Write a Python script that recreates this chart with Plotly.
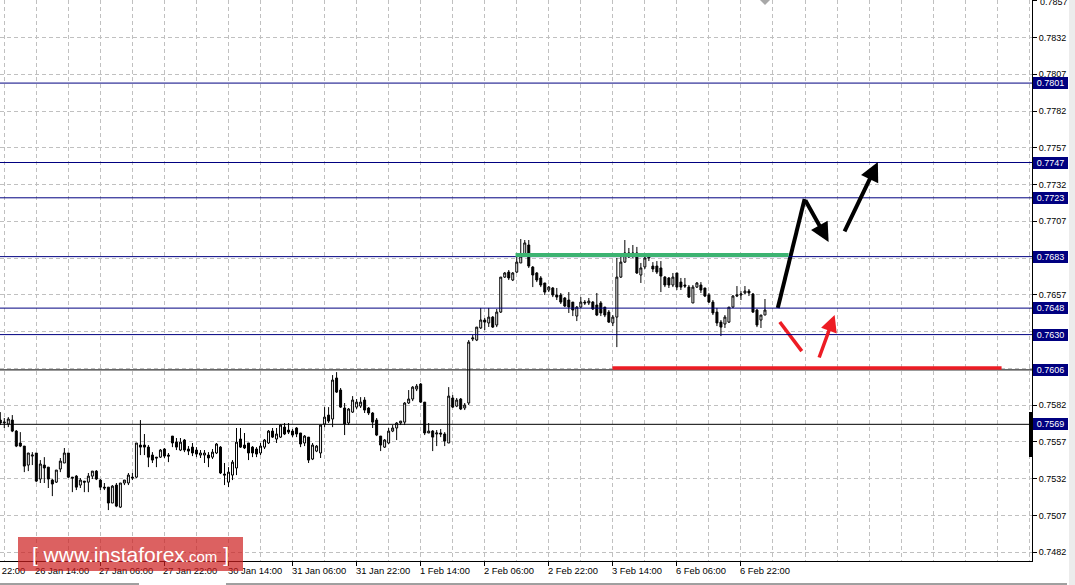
import plotly.graph_objects as go

# ---------------- data (H1 candles) ----------------
bars = list(range(192))
opens = [0.75719,0.75699,0.75692,0.75719,0.75644,0.75563,0.75542,0.75413,0.75474,0.75495,
0.75318,0.75413,0.75399,0.75311,0.75297,0.75386,0.75427,0.75495,0.75331,0.75338,
0.75277,0.75304,0.75297,0.75338,0.75372,0.75311,0.75263,0.75263,0.75155,0.75277,
0.75127,0.75291,0.75291,0.75331,0.75331,0.75549,0.75549,0.75535,0.75481,0.75467,
0.75467,0.75522,0.75481,0.75610,0.75569,0.75515,0.75583,0.75522,0.75535,0.75515,
0.75481,0.75481,0.75481,0.75467,0.75495,0.75535,0.75352,0.75297,0.75345,0.75393,
0.75590,0.75549,0.75563,0.75535,0.75522,0.75495,0.75535,0.75563,0.75644,0.75590,
0.75603,0.75671,0.75651,0.75644,0.75665,0.75631,0.75563,0.75603,0.75454,0.75508,
0.75495,0.75692,0.75753,0.75726,0.76005,0.75923,0.75801,0.75699,0.75773,0.75807,
0.75814,0.75855,0.75801,0.75767,0.75719,0.75610,0.75535,0.75563,0.75644,0.75665,
0.75699,0.75705,0.75835,0.75862,0.75930,0.75964,0.75841,0.75631,0.75644,0.75624,
0.75631,0.75624,0.75563,0.75869,0.75814,0.75862,0.75801,0.75835,0.76270,0.76263,
0.76345,0.76399,0.76379,0.76419,0.76365,0.76453,0.76691,0.76725,0.76671,0.76725,
0.76787,0.76841,0.76909,0.76759,0.76719,0.76685,0.76651,0.76603,0.76617,0.76569,
0.76569,0.76549,0.76535,0.76521,0.76426,0.76487,0.76521,0.76515,0.76521,0.76501,
0.76515,0.76487,0.76453,0.76379,0.76419,0.76691,0.76793,0.76855,0.76855,0.76855,
0.76705,0.76760,0.76821,0.76766,0.76766,0.76753,0.76691,0.76685,0.76637,0.76719,
0.76657,0.76637,0.76623,0.76515,0.76623,0.76637,0.76617,0.76569,0.76521,0.76453,
0.76385,0.76372,0.76385,0.76487,0.76562,0.76569,0.76583,0.76596,0.76576,0.76467,
0.76399,0.76433]
highs = [0.75773,0.75733,0.75739,0.75753,0.75651,0.75637,0.75542,0.75495,0.75501,0.75495,
0.75447,0.75467,0.75399,0.75318,0.75379,0.75461,0.75529,0.75495,0.75331,0.75345,
0.75325,0.75304,0.75359,0.75372,0.75379,0.75318,0.75291,0.75263,0.75277,0.75291,
0.75291,0.75311,0.75359,0.75359,0.75563,0.75719,0.75624,0.75549,0.75501,0.75467,
0.75522,0.75529,0.75495,0.75610,0.75597,0.75597,0.75590,0.75542,0.75563,0.75535,
0.75515,0.75515,0.75501,0.75522,0.75563,0.75542,0.75427,0.75399,0.75447,0.75665,
0.75665,0.75631,0.75563,0.75542,0.75535,0.75563,0.75590,0.75651,0.75665,0.75665,
0.75692,0.75699,0.75699,0.75658,0.75671,0.75631,0.75617,0.75603,0.75563,0.75549,
0.75685,0.75807,0.75807,0.76025,0.76045,0.75937,0.75835,0.75801,0.75882,0.75862,
0.75875,0.75875,0.75807,0.75773,0.75733,0.75610,0.75590,0.75665,0.75685,0.75705,
0.75712,0.75841,0.75923,0.75950,0.75964,0.75971,0.75841,0.75699,0.75651,0.75651,
0.75658,0.75637,0.75943,0.75889,0.75869,0.75869,0.75835,0.76263,0.76297,0.76351,
0.76481,0.76413,0.76481,0.76426,0.76474,0.76691,0.76725,0.76739,0.76725,0.76855,
0.76950,0.76943,0.76943,0.76766,0.76725,0.76698,0.76651,0.76630,0.76623,0.76617,
0.76583,0.76555,0.76589,0.76521,0.76494,0.76555,0.76535,0.76549,0.76528,0.76583,
0.76528,0.76487,0.76467,0.76433,0.76821,0.76841,0.76943,0.76889,0.76909,0.76896,
0.76787,0.76834,0.76855,0.76793,0.76800,0.76800,0.76698,0.76691,0.76719,0.76719,
0.76685,0.76685,0.76637,0.76637,0.76657,0.76657,0.76617,0.76583,0.76535,0.76481,
0.76399,0.76433,0.76487,0.76569,0.76630,0.76596,0.76630,0.76610,0.76583,0.76474,
0.76433,0.76542]
lows = [0.75685,0.75665,0.75671,0.75637,0.75535,0.75535,0.75365,0.75372,0.75413,0.75297,
0.75291,0.75291,0.75257,0.75202,0.75291,0.75365,0.75427,0.75325,0.75229,0.75243,
0.75257,0.75229,0.75229,0.75318,0.75311,0.75243,0.75243,0.75107,0.75155,0.75127,
0.75121,0.75277,0.75277,0.75311,0.75325,0.75481,0.75481,0.75399,0.75427,0.75399,
0.75461,0.75461,0.75433,0.75535,0.75515,0.75508,0.75501,0.75481,0.75474,0.75467,
0.75461,0.75427,0.75399,0.75454,0.75488,0.75352,0.75277,0.75263,0.75311,0.75345,
0.75529,0.75522,0.75447,0.75467,0.75467,0.75481,0.75522,0.75556,0.75597,0.75563,
0.75597,0.75617,0.75624,0.75603,0.75603,0.75535,0.75542,0.75427,0.75447,0.75501,
0.75461,0.75671,0.75699,0.75671,0.75903,0.75801,0.75617,0.75685,0.75767,0.75794,
0.75801,0.75767,0.75753,0.75665,0.75610,0.75508,0.75529,0.75556,0.75637,0.75583,
0.75685,0.75685,0.75828,0.75848,0.75916,0.75835,0.75617,0.75631,0.75508,0.75542,
0.75603,0.75542,0.75563,0.75801,0.75807,0.75787,0.75787,0.75821,0.76256,0.76256,
0.76338,0.76331,0.76352,0.76345,0.76351,0.76447,0.76685,0.76671,0.76664,0.76719,
0.76787,0.76828,0.76753,0.76623,0.76657,0.76623,0.76569,0.76589,0.76555,0.76535,
0.76508,0.76487,0.76447,0.76426,0.76392,0.76481,0.76501,0.76501,0.76467,0.76426,
0.76426,0.76419,0.76379,0.76358,0.76215,0.76685,0.76787,0.76821,0.76821,0.76712,
0.76651,0.76746,0.76800,0.76725,0.76712,0.76589,0.76623,0.76617,0.76623,0.76603,
0.76603,0.76617,0.76549,0.76515,0.76617,0.76583,0.76555,0.76515,0.76433,0.76358,
0.76290,0.76345,0.76379,0.76481,0.76555,0.76535,0.76576,0.76562,0.76447,0.76351,
0.76345,0.76433]
closes = [0.75699,0.75705,0.75726,0.75644,0.75542,0.75542,0.75406,0.75495,0.75481,0.75304,
0.75420,0.75393,0.75318,0.75284,0.75379,0.75440,0.75495,0.75331,0.75325,0.75263,
0.75311,0.75297,0.75338,0.75372,0.75318,0.75263,0.75257,0.75155,0.75270,0.75134,
0.75291,0.75311,0.75345,0.75325,0.75563,0.75535,0.75535,0.75467,0.75447,0.75461,
0.75515,0.75474,0.75474,0.75563,0.75535,0.75569,0.75515,0.75508,0.75495,0.75488,
0.75495,0.75495,0.75461,0.75501,0.75556,0.75359,0.75345,0.75365,0.75433,0.75569,
0.75535,0.75529,0.75495,0.75495,0.75488,0.75542,0.75583,0.75644,0.75603,0.75624,
0.75685,0.75624,0.75637,0.75617,0.75624,0.75556,0.75610,0.75447,0.75549,0.75542,
0.75685,0.75739,0.75712,0.75991,0.75909,0.75807,0.75692,0.75794,0.75855,0.75841,
0.75841,0.75787,0.75767,0.75705,0.75617,0.75549,0.75583,0.75644,0.75665,0.75699,
0.75712,0.75835,0.75862,0.75943,0.75950,0.75841,0.75631,0.75644,0.75603,0.75631,
0.75624,0.75576,0.75882,0.75807,0.75855,0.75794,0.75821,0.76249,0.76277,0.76351,
0.76399,0.76385,0.76419,0.76351,0.76453,0.76691,0.76719,0.76685,0.76719,0.76793,
0.76834,0.76923,0.76766,0.76705,0.76671,0.76637,0.76589,0.76623,0.76569,0.76555,
0.76521,0.76494,0.76487,0.76467,0.76487,0.76521,0.76515,0.76528,0.76474,0.76433,
0.76447,0.76433,0.76385,0.76419,0.76691,0.76793,0.76855,0.76828,0.76841,0.76719,
0.76753,0.76821,0.76828,0.76746,0.76725,0.76698,0.76637,0.76637,0.76691,0.76623,
0.76623,0.76630,0.76555,0.76623,0.76651,0.76603,0.76562,0.76521,0.76447,0.76379,
0.76351,0.76419,0.76487,0.76562,0.76569,0.76576,0.76596,0.76583,0.76453,0.76365,
0.76433,0.76467]

# horizontal levels drawn on chart with their price boxes
blue_levels = [0.7801, 0.7747, 0.7723, 0.7683, 0.7648, 0.7630]
dark_levels = [0.7606, 0.7569]
level_labels = ["0.7801", "0.7747", "0.7723", "0.7683", "0.7648", "0.7630", "0.7606", "0.7569"]

# resistance (green) and support (red) zones: [start bar, end bar, price]
green_zone = [128.7, 196.9, 0.76841]
red_zone = [152.9, 250.1, 0.76073]

# forecast arrows (bar index, price)
bull_leg_x = [194.2, 200.9]
bull_leg_y = [0.76481, 0.77222]
bull_pull_x = [200.9, 206.9]
bull_pull_y = [0.77222, 0.76930]
bull_cont_x = [210.7, 219.2]
bull_cont_y = [0.76991, 0.77473]
bear_leg_x = [194.7, 200.2]
bear_leg_y = [0.76386, 0.76188]
bear_rebound_x = [204.4, 208.4]
bear_rebound_y = [0.76134, 0.76433]

# axes (labels hidden behind price boxes are left blank)
y_tick_vals = [0.7857, 0.7832, 0.7807, 0.7782, 0.7757, 0.7732, 0.7707, 0.7682,
               0.7657, 0.7632, 0.7607, 0.7582, 0.7557, 0.7532, 0.7507, 0.7482]
y_tick_text = ["", "0.7832", "0.7807", "0.7782", "0.7757", "0.7732", "0.7707", "",
               "0.7657", "", "", "0.7582", "0.7557", "0.7532", "0.7507", "0.7482"]
top_tick_val = 0.7857
top_tick_text = "0.7857"
x_tick_bars = [-7, 9, 25, 41, 57, 73, 89, 105, 121, 137, 153, 169, 185]
x_tick_text = ["25 Jan 22:00", "26 Jan 14:00", "27 Jan 06:00", "27 Jan 22:00", "30 Jan 14:00",
               "31 Jan 06:00", "31 Jan 22:00", "1 Feb 14:00", "2 Feb 06:00", "2 Feb 22:00",
               "3 Feb 14:00", "6 Feb 06:00", "6 Feb 22:00"]

X_RANGE = [-0.075, 257.7]
Y_RANGE = [0.747608, 0.785748]
W, H = 1075, 585
ML, MR, MT, MB = 0, 43, 0, 24
PW = W - ML - MR
PH = H - MT - MB
PX_PER_BAR = PW / (X_RANGE[1] - X_RANGE[0])

FONT = "Liberation Sans, Arial, sans-serif"
NAVY = "#000080"
GRID = "#c0c0c0"

fig = go.Figure()

fig.add_trace(go.Candlestick(
    x=bars, open=opens, high=highs, low=lows, close=closes,
    increasing=dict(line=dict(color="#000000", width=1), fillcolor="#ffffff"),
    decreasing=dict(line=dict(color="#000000", width=1), fillcolor="#000000"),
    whiskerwidth=0, hoverinfo="skip", showlegend=False))

shapes = []
for lv in blue_levels:
    shapes.append(dict(type="line", xref="paper", yref="y", x0=0, x1=1, y0=lv, y1=lv,
                       line=dict(color=NAVY, width=1), layer="above"))
for lv in dark_levels:
    shapes.append(dict(type="line", xref="paper", yref="y", x0=0, x1=1, y0=lv, y1=lv,
                       line=dict(color="#000000", width=1), layer="above"))

shapes.append(dict(type="line", xref="x", yref="y", x0=green_zone[0], x1=green_zone[1],
                   y0=green_zone[2], y1=green_zone[2],
                   line=dict(color="#3cb371", width=4), layer="above"))
shapes.append(dict(type="line", xref="x", yref="y", x0=red_zone[0], x1=red_zone[1],
                   y0=red_zone[2], y1=red_zone[2],
                   line=dict(color="#ed1c24", width=3.5), layer="above"))

fig.add_trace(go.Scatter(x=bull_leg_x, y=bull_leg_y, mode="lines",
                         line=dict(color="#000000", width=4), hoverinfo="skip", showlegend=False))
fig.add_trace(go.Scatter(x=bear_leg_x, y=bear_leg_y, mode="lines",
                         line=dict(color="#ed1c24", width=3.5), hoverinfo="skip", showlegend=False))

annotations = []

def arrow(xs, ys, color, width):
    annotations.append(dict(x=xs[1], y=ys[1], ax=xs[0], ay=ys[0], xref="x", yref="y",
                            axref="x", ayref="y", showarrow=True, arrowhead=2,
                            arrowsize=0.95, arrowwidth=width, arrowcolor=color,
                            standoff=0, startstandoff=0, text=""))

arrow(bull_pull_x, bull_pull_y, "#000000", 4)
arrow(bull_cont_x, bull_cont_y, "#000000", 4)
arrow(bear_rebound_x, bear_rebound_y, "#ed1c24", 3.5)

# time labels (left-aligned at tick mark, MT4 style)
for b, t in zip(x_tick_bars, x_tick_text):
    xa = max(b, 0)
    annotations.append(dict(x=xa, y=0, xref="x", yref="paper", xanchor="left", yanchor="top",
                            xshift=(b - xa) * PX_PER_BAR - 1, yshift=-4, text=t, showarrow=False,
                            borderpad=0, borderwidth=0,
                            font=dict(family=FONT, size=9.4, color="#000000")))

# top price tick label (partly cut at the top edge)
annotations.append(dict(x=1, y=top_tick_val, xref="paper", yref="y", xanchor="left",
                        yanchor="middle", xshift=8, yshift=-1, text=top_tick_text, showarrow=False,
                        borderpad=0, borderwidth=0,
                        font=dict(family=FONT, size=9, color="#000000")))

# price boxes on right axis
for lv, t in zip(blue_levels + dark_levels, level_labels):
    annotations.append(dict(x=1, y=lv, xref="paper", yref="y", xanchor="left", yanchor="middle",
                            xshift=1, text=t, showarrow=False, bgcolor=NAVY,
                            width=35, height=12, borderwidth=0, borderpad=0,
                            font=dict(family=FONT, size=9, color="#ffffff")))

# watermark
annotations.append(dict(x=130.5 / PW, y=(PH - 554) / PH, xref="paper", yref="paper",
                        xanchor="center", yanchor="middle", showarrow=False,
                        text="[ www.instaforex<span style='font-size:15px'>.com</span> ]",
                        bgcolor="rgba(205,30,30,0.7)", width=225, height=34,
                        borderwidth=0, borderpad=0,
                        font=dict(family=FONT, size=21, color="#ffffff")))

# right-edge marker, chart-shift marker, side strip and bottom tab line
shapes.append(dict(type="rect", xref="paper", yref="paper", x0=1029 / PW, x1=1033 / PW,
                   y0=(PH - 457) / PH, y1=(PH - 412) / PH, fillcolor="#000000",
                   line=dict(width=0), layer="above"))
shapes.append(dict(type="path", xref="paper", yref="paper",
                   path="M {a},{t} L {b},{t} L {c},{m} Z".format(
                       a=760 / PW, b=770 / PW, c=765 / PW, t=1.0, m=(PH - 5) / PH),
                   fillcolor="#a8a8a8", line=dict(width=0), layer="above"))
shapes.append(dict(type="rect", xref="paper", yref="paper", x0=1069 / PW, x1=1076 / PW,
                   y0=-0.1, y1=1.01, fillcolor="#ececec", line=dict(width=0), layer="above"))
shapes.append(dict(type="line", xref="paper", yref="paper", x0=0, x1=139 / PW,
                   y0=(PH - 584) / PH, y1=(PH - 584) / PH,
                   line=dict(color="#404040", width=1), layer="above"))
shapes.append(dict(type="line", xref="paper", yref="paper", x0=226 / PW, x1=1067 / PW,
                   y0=(PH - 584) / PH, y1=(PH - 584) / PH,
                   line=dict(color="#404040", width=1), layer="above"))

fig.update_layout(
    width=W, height=H,
    margin=dict(l=ML, r=MR, t=MT, b=MB, pad=0),
    paper_bgcolor="#ffffff", plot_bgcolor="#ffffff",
    showlegend=False, hovermode=False,
    shapes=shapes, annotations=annotations,
    xaxis=dict(range=X_RANGE, rangeslider=dict(visible=False), showticklabels=False,
               tickmode="array", tickvals=x_tick_bars, ticks="outside", ticklen=4,
               tickcolor="#000000", showgrid=True, gridcolor=GRID, griddash="4px,3px",
               gridwidth=1, showline=True, linecolor="#000000", linewidth=1, zeroline=False,
               minor=dict(tickmode="linear", tick0=1, dtick=8, showgrid=True,
                          gridcolor=GRID, griddash="4px,3px", gridwidth=1, ticks="")),
    yaxis=dict(range=Y_RANGE, side="right", tickmode="array", tickvals=y_tick_vals,
               ticktext=y_tick_text, ticks="outside", ticklen=4, tickcolor="#000000",
               showgrid=True, gridcolor=GRID, griddash="4px,3px", gridwidth=1,
               showline=True, linecolor="#000000", linewidth=1, zeroline=False,
               tickfont=dict(family=FONT, size=9, color="#000000")),
)

fig.write_html("out.html", config={"staticPlot": True},
               post_script="document.body.style.margin='0';document.body.style.overflow='hidden';")
